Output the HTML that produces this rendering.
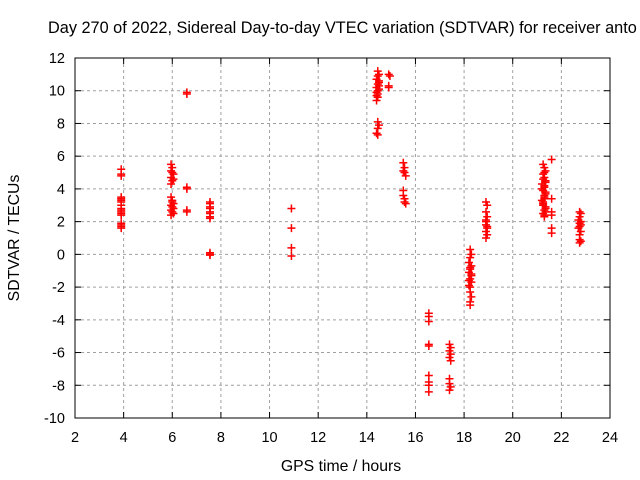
<!DOCTYPE html>
<html><head><meta charset="utf-8"><style>
body{margin:0;background:#fff;overflow:hidden;}
svg{display:block;font-family:"Liberation Sans",sans-serif;}
</style></head><body>
<svg id="chart" width="640" height="480" xmlns="http://www.w3.org/2000/svg">
<rect width="640" height="480" fill="#fff"/>
<text x="48" y="33" font-size="16.3">Day 270 of 2022, Sidereal Day-to-day VTEC variation (SDTVAR) for receiver anto</text>
<g id="grid"></g><g id="pts"></g>
<rect x="75" y="58" width="535" height="360" fill="none" stroke="#000" stroke-width="1"/>
<text x="341" y="471" font-size="15.8" text-anchor="middle">GPS time / hours</text>
<text transform="translate(19,238) rotate(-90)" font-size="15.8" text-anchor="middle">SDTVAR / TECUs</text>
</svg>
<script>
const xTicks=[2,4,6,8,10,12,14,16,18,20,22,24];
const yTicks=[12,10,8,6,4,2,0,-2,-4,-6,-8,-10];
const xs=[3.9,3.9,3.9,3.9,3.9,3.9,3.9,3.9,3.9,3.9,3.9,3.9,3.9,3.9,3.9,3.9,3.9,
5.95,6.0,5.95,6.05,5.95,6.0,5.95,6.05,6.0,5.95,6.0,6.05,5.95,6.0,6.05,5.95,6.0,6.05,6.0,5.95,
6.6,6.6,6.6,6.6,6.6,6.6,
7.55,7.55,7.55,7.55,7.55,7.55,7.55,7.55,7.55,7.55,7.55,
10.9,10.9,10.9,10.9,
14.45,14.5,14.45,14.4,14.5,14.45,14.4,14.5,14.45,14.4,14.45,14.5,14.45,14.4,14.5,14.4,14.45,14.5,14.45,14.4,14.45,
14.9,14.95,14.9,14.9,
15.5,15.55,15.5,15.55,15.6,15.5,15.5,15.55,15.55,15.6,
16.55,16.55,16.55,16.55,16.55,16.55,16.55,16.55,16.55,
17.4,17.45,17.4,17.45,17.4,17.45,17.4,17.4,17.45,17.4,
18.25,18.3,18.25,18.2,18.3,18.25,18.2,18.3,18.25,18.3,18.2,18.25,18.3,18.25,18.2,18.25,18.3,18.25,18.25,
18.9,18.95,18.9,18.95,18.9,18.9,18.95,18.9,18.95,18.9,18.9,18.95,
21.25,21.3,21.35,21.25,21.3,21.35,21.2,21.3,21.25,21.35,21.3,21.2,21.25,21.35,21.3,21.25,21.3,21.35,21.2,21.3,21.25,21.35,21.3,21.25,21.3,21.35,21.3,21.25,21.35,21.3,
21.6,21.6,21.6,21.6,21.6,21.6,
22.75,22.8,22.75,22.7,22.8,22.75,22.8,22.75,22.7,22.8,22.75,22.75,22.8,22.75];
const ys=[5.2,4.9,4.8,3.4,3.3,3.2,3.5,3.0,2.6,2.5,2.7,2.4,2.8,1.8,1.7,1.6,1.9,
5.5,5.3,5.1,4.9,4.7,4.5,4.3,4.6,5.0,3.5,3.3,3.1,3.0,2.9,2.8,2.7,2.6,2.5,3.2,2.4,
9.9,9.8,4.1,4.0,2.7,2.6,
3.2,3.1,2.9,2.8,2.6,2.5,2.3,2.2,0.1,0.0,-0.05,
2.8,1.6,0.4,-0.1,
11.2,11.0,10.9,10.7,10.6,10.4,10.2,10.3,10.0,9.9,9.8,10.1,9.6,9.4,10.5,9.7,8.1,7.9,7.7,7.4,7.3,
11.0,10.9,10.3,10.2,
5.6,5.3,5.1,5.0,4.8,3.9,3.6,3.4,3.2,3.1,
-3.6,-3.8,-4.1,-5.5,-5.6,-7.4,-7.8,-8.0,-8.4,
-5.5,-5.7,-5.9,-6.1,-6.3,-6.5,-7.6,-7.9,-8.1,-8.3,
0.3,0.0,-0.2,-0.5,-0.7,-0.9,-1.1,-1.3,-1.5,-1.7,-1.9,-2.0,-1.2,-0.8,-1.6,-2.3,-2.6,-2.9,-3.1,
3.2,3.0,2.6,2.3,2.0,1.8,1.6,1.4,1.2,1.0,2.1,1.7,
5.5,5.3,5.1,4.9,4.7,4.5,4.3,4.1,3.9,3.7,3.5,3.3,3.1,2.9,2.7,2.5,2.3,4.4,4.0,3.6,3.2,2.8,5.0,4.6,4.2,3.8,3.4,3.0,2.6,2.4,
5.8,3.4,2.6,2.4,1.6,1.3,
2.6,2.5,2.3,2.1,2.0,1.9,1.8,1.7,1.6,1.4,1.2,0.9,0.8,0.7];
const L=75,R=610,T=58,B=418;
const sx=v=>L+(v-2)/22*(R-L), sy=v=>T+(12-v)/22*(B-T);
const NS="http://www.w3.org/2000/svg";
const grid=document.getElementById('grid'), pts=document.getElementById('pts');
function mk(tag,attrs,parent){const e=document.createElementNS(NS,tag);for(const k in attrs)e.setAttribute(k,attrs[k]);parent.appendChild(e);return e;}
xTicks.forEach(t=>{const x=sx(t);
 if(t>2&&t<24){const g=mk('line',{x1:x,x2:x,y1:T,y2:B,stroke:'#a0a0a0','stroke-dasharray':'3,3'},grid);
 
 }
 mk('line',{x1:x,x2:x,y1:B,y2:B-6,stroke:'#000'},grid);mk('line',{x1:x,x2:x,y1:T,y2:T+6,stroke:'#000'},grid);
 const l=mk('text',{x:x,y:B+24,'font-size':14.5,'text-anchor':'middle'},grid);l.textContent=t;
 
 });
yTicks.forEach(t=>{const y=sy(t);
 if(t>-10&&t<12){const g=mk('line',{x1:L,x2:R,y1:y,y2:y,stroke:'#a0a0a0','stroke-dasharray':'3,3'},grid);
 
 }
 mk('line',{x1:L,x2:L+6,y1:y,y2:y,stroke:'#000'},grid);mk('line',{x1:R,x2:R-6,y1:y,y2:y,stroke:'#000'},grid);
 const l=mk('text',{x:L-10,y:y+5,'font-size':14.5,'text-anchor':'end'},grid);l.textContent=t;
 
 });
xs.forEach((xv,i)=>{const x=sx(xv),y=sy(ys[i]);
 const p=mk('path',{d:`M${x-4},${y}H${x+4}M${x},${y-4}V${y+4}`,stroke:'#f00','stroke-width':1.5,fill:'none'},pts);
 
 });
</script>
</body></html>
